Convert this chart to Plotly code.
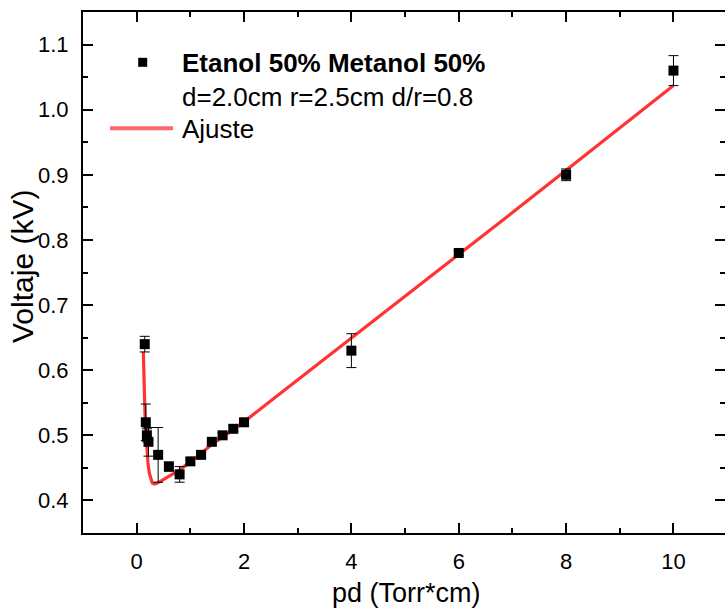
import plotly.graph_objects as go

# Measured data
pd_x = [0.15, 0.17, 0.19, 0.22, 0.4, 0.6, 0.8, 1.0, 1.2, 1.4, 1.6, 1.8, 2.0, 4, 6, 8, 10]
volt_y = [0.64, 0.52, 0.50, 0.49, 0.47, 0.452, 0.44, 0.46, 0.47, 0.49, 0.50, 0.51, 0.52, 0.63, 0.78, 0.90, 1.06]
volt_err = [0.012, 0.028, 0.010, 0.022, 0.042, 0.007, 0.012, 0.004, 0.004, 0.005, 0.004, 0.004, 0.005, 0.026, 0.004, 0.009, 0.023]

# Fit curve
fit_x = [0.124, 0.13, 0.14, 0.155, 0.17, 0.19, 0.21, 0.235, 0.26, 0.29, 0.32, 0.36, 0.42, 0.5, 0.6,
         0.7, 0.8, 1.0, 1.2, 1.4, 1.7, 2.0, 2.5, 3, 4, 5, 6, 7, 8, 9, 10]
fit_y = [0.628, 0.595, 0.56, 0.532, 0.508, 0.48, 0.458, 0.442, 0.433, 0.427, 0.4255, 0.4258, 0.428, 0.432, 0.436,
         0.441, 0.447, 0.459, 0.472, 0.486, 0.503, 0.521, 0.553, 0.585, 0.649, 0.713, 0.777, 0.842, 0.907, 0.972, 1.037]

x_ticks = [0, 2, 4, 6, 8, 10]
y_ticks = [0.4, 0.5, 0.6, 0.7, 0.8, 0.9, 1.0, 1.1]

FONT = "Liberation Sans, Arial, sans-serif"
W, H = 725, 611
ML, MR, MT, MB = 83, 0, 12, 78
PW, PH = W - ML - MR, H - MT - MB


def px(x):
    return (x - ML) / PW


def py(y):
    return (H - MB - y) / PH


fig = go.Figure()
fig.add_trace(go.Scatter(
    x=fit_x, y=fit_y, mode="lines",
    line=dict(color="rgba(255,0,0,0.8)", width=3.2),
    showlegend=False, hoverinfo="skip"))
fig.add_trace(go.Scatter(
    x=pd_x, y=volt_y, mode="markers",
    marker=dict(symbol="square", size=10, color="black"),
    error_y=dict(type="data", array=volt_err, color="black", thickness=1, width=5),
    showlegend=False))
# invisible trace for the right-side tick axis
fig.add_trace(go.Scatter(x=[0], y=[0.7], yaxis="y2", mode="markers",
                         marker=dict(opacity=0), showlegend=False, hoverinfo="skip"))

axis_common = dict(
    showgrid=False, zeroline=False, showline=True, linecolor="black", linewidth=2,
    ticks="inside", ticklen=10, tickwidth=2, tickcolor="black",
    tickfont=dict(family=FONT, size=22, color="black"),
)

fig.update_layout(
    width=W, height=H,
    margin=dict(l=ML, r=MR, t=MT, b=MB, autoexpand=False),
    paper_bgcolor="white", plot_bgcolor="white",
    showlegend=False,
    xaxis=dict(
        range=[-1, 10.96], tickvals=x_ticks, mirror="ticks",
        minor=dict(dtick=1, tick0=0, ticks="inside", ticklen=5, tickwidth=2, tickcolor="black"),
        ticklabelstandoff=8,
        **axis_common),
    yaxis=dict(
        range=[0.35, 1.15], tickvals=y_ticks, tickformat=".1f", mirror=False,
        minor=dict(dtick=0.05, tick0=0, ticks="inside", ticklen=5, tickwidth=2, tickcolor="black"),
        ticklabelstandoff=8,
        **axis_common),
    yaxis2=dict(
        range=[0.35, 1.15], overlaying="y", side="right", showline=False,
        showgrid=False, zeroline=False, tickvals=y_ticks, showticklabels=False,
        ticks="inside", ticklen=10, tickwidth=2, tickcolor="black",
        minor=dict(dtick=0.05, tick0=0, ticks="inside", ticklen=5, tickwidth=2, tickcolor="black")),
)

annotations = [
    dict(text="pd (Torr*cm)", x=px(406), y=py(593), xref="paper", yref="paper",
         xanchor="center", yanchor="middle", showarrow=False,
         font=dict(family=FONT, size=27, color="black")),
    dict(text="Voltaje (kV)", x=px(22), y=py(267), xref="paper", yref="paper",
         xanchor="center", yanchor="middle", showarrow=False, textangle=-90,
         font=dict(family=FONT, size=30, color="black")),
    dict(text="<b>Etanol 50% Metanol 50%</b>", x=px(180), y=py(62.5), xref="paper", yref="paper",
         xanchor="left", yanchor="middle", showarrow=False,
         font=dict(family=FONT, size=26, color="black")),
    dict(text="d=2.0cm r=2.5cm d/r=0.8", x=px(180), y=py(96.7), xref="paper", yref="paper",
         xanchor="left", yanchor="middle", showarrow=False,
         font=dict(family=FONT, size=26, color="black")),
    dict(text="Ajuste", x=px(180), y=py(129), xref="paper", yref="paper",
         xanchor="left", yanchor="middle", showarrow=False,
         font=dict(family=FONT, size=26, color="black")),
]
fig.update_layout(annotations=annotations)

shapes = [
    dict(type="rect", xref="paper", yref="paper",
         x0=px(138.2), x1=px(147.2), y0=py(66.8), y1=py(57.8),
         fillcolor="black", line=dict(width=0)),
    dict(type="line", xref="paper", yref="paper",
         x0=px(110), x1=px(173), y0=py(128.3), y1=py(128.3),
         line=dict(color="rgba(255,40,40,0.7)", width=4)),
]
fig.update_layout(shapes=shapes)

fig.write_html("out.html")
